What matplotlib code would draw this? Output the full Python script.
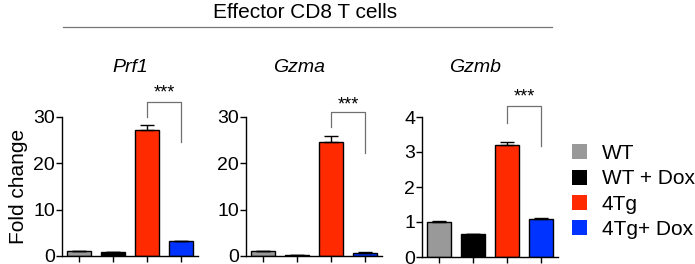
import matplotlib
matplotlib.use("Agg")
import matplotlib.pyplot as plt
from matplotlib.lines import Line2D
from matplotlib.patches import Patch

plt.rcParams["font.family"] = ["Liberation Sans", "DejaVu Sans"]

# data
groups = ["WT", "WT + Dox", "4Tg", "4Tg+ Dox"]
genes = ["Prf1", "Gzma", "Gzmb"]
prf1 = [1.0, 0.8, 27.1, 3.2]
prf1_err = [0.1, 0.1, 1.1, 0.1]
gzma = [1.0, 0.2, 24.6, 0.75]
gzma_err = [0.1, 0.05, 1.3, 0.05]
gzmb = [1.0, 0.65, 3.2, 1.1]
gzmb_err = [0.02, 0.02, 0.08, 0.02]
y_max = [30, 30, 4]
y_ticks = [[0, 10, 20, 30], [0, 10, 20, 30], [0, 1, 2, 3, 4]]
stars = "***"

# style
colors = ["#999999", "#000000", "#ff2a00", "#0033ff"]
W, H = 695, 264
panel_left = [62, 246, 422]
panel_width = 136
panel_bottom = [256, 256, 257]
panel_top = [116.5, 116.5, 117]
title_x = [130, 299, 475]
# bracket geometry in axes fraction: left-leg bottom, top, right-leg bottom, star height
bracket = [(1.0, 1.105, 0.82, 1.17), (0.925, 1.03, 0.74, 1.085), (0.96, 1.08, 0.79, 1.14)]
LINE = "#707070"

fig = plt.figure(figsize=(W / 100, H / 100), dpi=100)

for i, (vals, errs) in enumerate([(prf1, prf1_err), (gzma, gzma_err), (gzmb, gzmb_err)]):
    ax = fig.add_axes([panel_left[i] / W, (H - panel_bottom[i]) / H,
                       panel_width / W, (panel_bottom[i] - panel_top[i]) / H])
    xs = range(len(groups))
    ax.bar(xs, vals, width=0.68, color=colors, edgecolor="black", linewidth=1.0, zorder=2)
    ax.errorbar(xs, vals, yerr=[[0] * len(errs), errs], fmt="none", ecolor="black",
                elinewidth=1.0, capsize=5, capthick=1.0, zorder=3)
    ax.set_xlim(-0.5, 3.5)
    ax.set_ylim(0, y_max[i])
    ax.set_yticks(y_ticks[i])
    ax.set_xticks(list(xs))
    ax.set_xticklabels([])
    for s in ("top", "right"):
        ax.spines[s].set_visible(False)
    for s in ("left", "bottom"):
        ax.spines[s].set_linewidth(1.0)
    ax.tick_params(axis="y", direction="out", length=4, width=1.0, labelsize=14, pad=1)
    ax.tick_params(axis="x", direction="out", length=4, width=1.0)
    if i == 0:
        ax.set_ylabel("Fold change", fontsize=15, labelpad=4)

    # significance bracket between 4Tg and 4Tg+ Dox
    lb, top, rb, sy = bracket[i]
    tr = ax.get_xaxis_transform()
    ax.add_line(Line2D([2, 2, 3, 3], [lb, top, top, rb], transform=tr,
                       color=LINE, linewidth=0.9, clip_on=False))
    ax.text(2.5, sy, stars, transform=tr, ha="center", va="center", fontsize=13)

    fig.text(title_x[i] / W, (H - 67) / H, genes[i], ha="center", va="center",
             fontsize=14, style="italic")

fig.text(305 / W, (H - 12) / H, "Effector CD8 T cells", ha="center", va="center", fontsize=15)
fig.add_artist(Line2D([63 / W, 552 / W], [(H - 27) / H] * 2, color="#777777", linewidth=0.9))

handles = [Patch(facecolor=c, edgecolor="none") for c in colors]
fig.legend(handles, groups, loc="center left", bbox_to_anchor=(572 / W, (H - 191.5) / H),
           frameon=False, fontsize=15, handlelength=0.72, handleheight=0.72,
           handletextpad=0.72, labelspacing=0.3, borderpad=0, borderaxespad=0)

fig.savefig("out.png", dpi=100)
